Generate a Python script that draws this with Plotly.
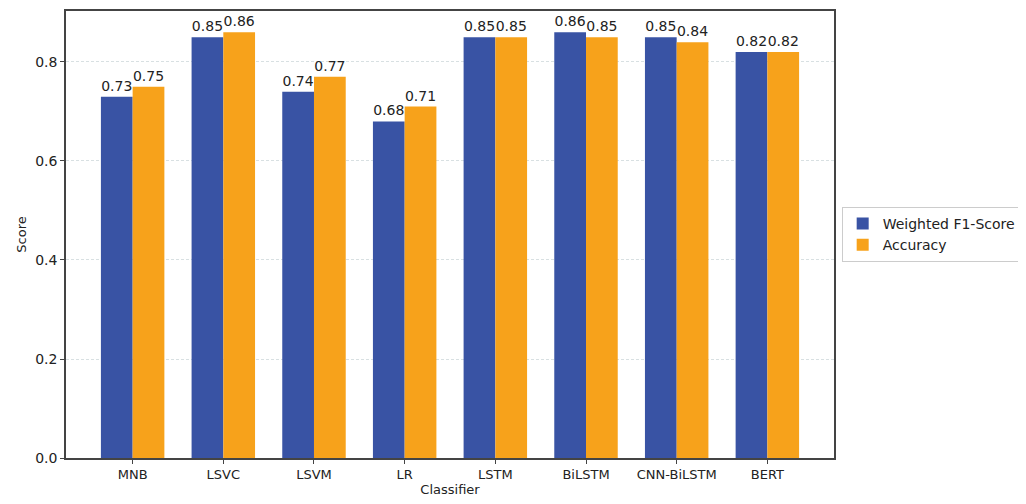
import plotly.graph_objects as go

classifiers = ["MNB", "LSVC", "LSVM", "LR", "LSTM", "BiLSTM", "CNN-BiLSTM", "BERT"]
f1_scores = [0.73, 0.85, 0.74, 0.68, 0.85, 0.86, 0.85, 0.82]
accuracy = [0.75, 0.86, 0.77, 0.71, 0.85, 0.85, 0.84, 0.82]

blue = "#3953a4"
orange = "#f7a21b"
font_family = "DejaVu Sans, sans-serif"

fig = go.Figure()
fig.add_trace(go.Bar(
    x=classifiers, y=f1_scores, name="Weighted F1-Score",
    marker=dict(color=blue, line=dict(width=0)),
    text=[f"{v:.2f}" for v in f1_scores], textposition="outside",
    textfont=dict(size=14, color="#222222", family=font_family),
    cliponaxis=False,
))
fig.add_trace(go.Bar(
    x=classifiers, y=accuracy, name="Accuracy",
    marker=dict(color=orange, line=dict(width=0)),
    text=[f"{v:.2f}" for v in accuracy], textposition="outside",
    textfont=dict(size=14, color="#222222", family=font_family),
    cliponaxis=False,
))

fig.update_layout(
    width=1018, height=496,
    margin=dict(l=58, r=192, t=1, b=46),
    paper_bgcolor="white", plot_bgcolor="white",
    barmode="group", bargap=0.3, bargroupgap=0,
    font=dict(family=font_family, size=13, color="#222222"),
    legend=dict(
        x=1.01, y=0.5, xanchor="left", yanchor="middle",
        bordercolor="#cccccc", borderwidth=1,
        font=dict(size=14, family=font_family),
        traceorder="normal",
    ),
    showlegend=True,
)
fig.update_xaxes(
    title=dict(text="Classifier", font=dict(size=13), standoff=2),
    range=[-0.735, 7.735],
    showline=True, linecolor="#444444", linewidth=1.5, mirror=True,
    ticks="outside", ticklen=4, tickcolor="#444444",
    showgrid=False, tickfont=dict(size=13),
)
fig.update_yaxes(
    title=dict(text="Score", font=dict(size=13), standoff=6),
    range=[0, 0.903], dtick=0.2, tickformat=".1f",
    showline=True, linecolor="#444444", linewidth=1.5, mirror=True,
    ticks="outside", ticklen=4, tickcolor="#444444",
    showgrid=True, gridcolor="#d8e0e2", griddash="3px,2px", gridwidth=1,
    zeroline=False, tickfont=dict(size=14),
)

fig.write_html("out.html")
